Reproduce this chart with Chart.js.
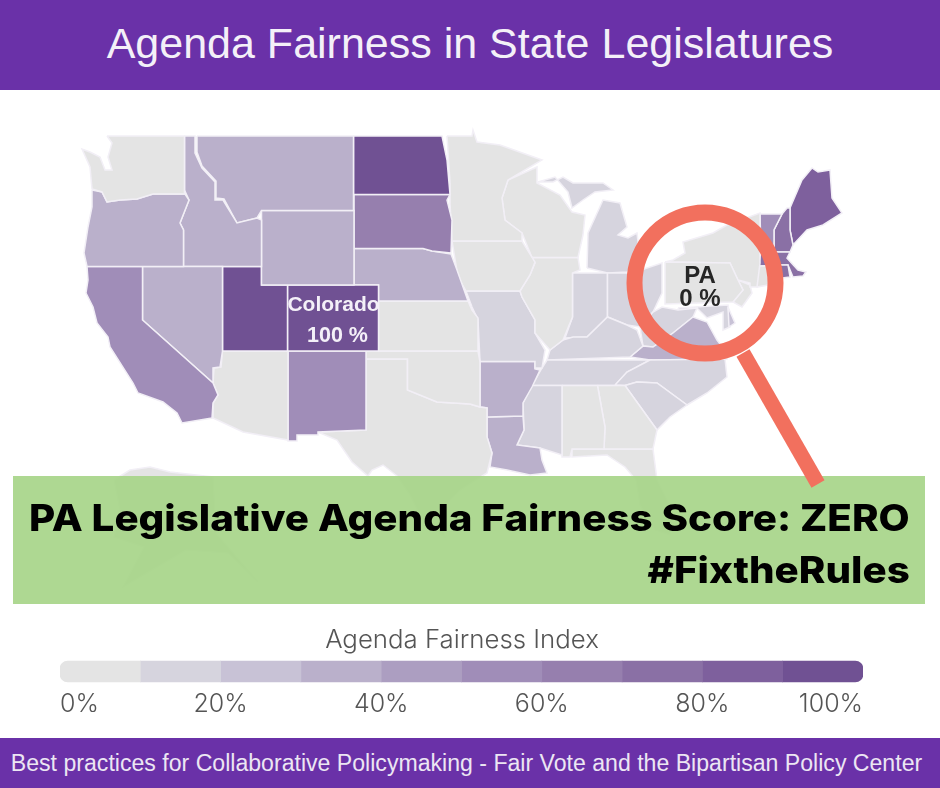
<!DOCTYPE html>
<html>
<head>
<meta charset="utf-8">
<script src="https://cdn.jsdelivr.net/npm/chart.js@4/dist/chart.umd.min.js"></script>
<style>
  html, body { margin: 0; padding: 0; background: #fff; }
  #page { position: relative; width: 940px; height: 788px; overflow: hidden; font-family: "Liberation Sans", Arial, sans-serif; }
  canvas { position: absolute; }
  #mapChart, #lensChart { left: 0; top: 0; }
  #mapChart { filter: blur(0.5px); }
  #legendChart { left: 60px; top: 655px; }
  .bar { position: absolute; left: 0; width: 940px; background: #6a31a8; color: #fff; text-align: center; white-space: nowrap; }
  #head { top: 0; height: 90px; line-height: 86px; font-size: 43px; color: #f4f0f8; }
  #foot { top: 738px; height: 50px; line-height: 50px; font-size: 23.1px; color: #ece6f3; width: 933px; padding-right: 7px; }
  #banner { position: absolute; left: 13px; top: 476px; width: 912px; height: 128px; background: rgba(165, 212, 134, 0.9); }
  .bannerline { position: absolute; right: 15px; white-space: nowrap; color: #000; font-family: Inter, sans-serif; font-weight: 800; font-size: 37px; transform: scaleX(1.089); transform-origin: right center; }
  #legendTitle { position: absolute; left: 0; width: 924px; top: 623px; text-align: center; font-family: Inter, sans-serif; font-weight: 300; font-size: 25.8px; color: #555; }
  .label { position: absolute; font-weight: bold; text-align: center; white-space: nowrap; }
</style>
</head>
<body>
<div id="page">
  <canvas id="mapChart" width="940" height="788"></canvas>
  <div id="banner">
    <div class="bannerline" style="top:19px">PA Legislative Agenda Fairness Score: ZERO</div>
    <div class="bannerline" style="top:71px">#FixtheRules</div>
  </div>
  <canvas id="lensChart" width="940" height="788"></canvas>
  <div class="bar" id="head">Agenda Fairness in State Legislatures</div>
  <div class="bar" id="foot">Best practices for Collaborative Policymaking - Fair Vote and the Bipartisan Policy Center</div>
  <div class="label" style="left:280px;width:107px;top:292px;font-size:21px;color:#f4f0f8">Colorado</div>
  <div class="label" style="left:284px;width:107px;top:323px;font-size:21.5px;color:#f4f0f8">100 %</div>
  <div class="label" style="left:650px;width:100px;top:261px;font-size:24px;color:#262626">PA</div>
  <div class="label" style="left:650px;width:100px;top:284px;font-size:24px;color:#262626">0 %</div>
  <div id="legendTitle">Agenda Fairness Index</div>
  <canvas id="legendChart" width="803" height="71"></canvas>
</div>

<script>
// Data

const stateNames = ["WA","OR","CA","NV","ID","MT","WY","UT","CO","AZ","NM","ND","SD","NE","KS","OK","TX","MN","IA","WI","IL","MO","AR","LA","MS","AL","GA","FL","SC","NC","TN","KY","VA","WV","OH","IN","MI","MIU","PA","NY","NJ","CT","RI","MA","VT","NH","ME","DE","MD","AK"];
const stateScores = [0,35,55,35,35,35,35,100,100,0,55,100,65,35,0,0,0,0,0,0,0,15,35,35,15,0,0,0,15,15,15,15,35,15,15,15,15,15,0,0,0,0,75,75,55,75,85,25,15,0];

const legendSteps = [10,10,10,10,10,10,10,10,10,10];
const legendColors = ["#e4e4e4","#d6d4de","#c8c2d6","#bab0cb","#ac9ec1","#a08db8","#967fae","#8a70a5","#7e609d","#705193"];

// outlines, in map units
const stateOutlines = {
  WA: [[107,136],[184.5,136],[184.5,194],[153,194],[137,199],[120,200],[107,202],[102,192],[92,189],[91,178],[90,167],[82,149],[90,152],[100,157],[105,170],[112,170],[108,157],[112,143]],
  OR: [[92,190],[102,192],[107,202],[120,200],[137,199],[153,194],[185,194],[189,200],[180,223],[183.5,230],[183.5,266.5],[87,266.5],[84,253],[88,227],[92,207]],
  CA: [[87,266.5],[142.5,266.5],[142.5,320],[213,383],[218,395],[213,403],[212,418],[182,423],[177,413],[163,402],[138,393],[133,383],[110,347],[108,337],[97,323],[93,307],[86,293],[88,280]],
  NV: [[142.5,266.5],[222.5,266.5],[222.5,351],[220,367],[213,368],[213,383],[142.5,320]],
  ID: [[184.5,136],[195,136],[195,153],[202,168],[215,182],[215,200],[223,200],[237,223],[257,218],[261.5,220],[261.5,266.5],[183.5,266.5],[183.5,230],[180,223],[189,200],[184.5,190]],
  MT: [[197,136],[353.5,136],[353.5,210.5],[261.5,210.5],[257,218],[237,223],[224,199],[216,198],[216,181],[202,166],[197,152]],
  WY: [[261.5,210.5],[354,210.5],[354,285],[261.5,285]],
  UT: [[222.5,266.5],[261.5,266.5],[261.5,285],[287.5,285],[287.5,351],[222.5,351]],
  CO: [[287.5,285],[378.5,285],[378.5,351],[287.5,351]],
  AZ: [[222.5,351],[288,351],[288,440],[243,432],[213,418],[213,403],[218,395],[213,383],[214,368],[221,367]],
  NM: [[288,351],[366,351],[366,430],[318,432],[318,435],[297,435],[297,441],[288,441]],
  ND: [[353.5,136],[442,136],[447,160],[450,194.5],[353.5,194.5]],
  SD: [[354,194.5],[450,194.5],[447,200],[452,220],[451,253],[432,251],[423,248.5],[354,248.5]],
  NE: [[354,248.5],[423,248.5],[432,251],[451,254],[457,270],[468,301],[378.5,301],[378.5,285],[354,285]],
  KS: [[378.5,301],[468,301],[472,310],[478,318],[478,351],[378.5,351]],
  OK: [[366,351],[478,351],[480,362],[480,407],[470,404],[437,402],[407.5,390],[407.5,359],[366,359]],
  TX: [[366,359],[407.5,359],[407.5,390],[437,402],[470,404],[480,407],[487,408],[487,437],[492,453],[487,473],[460,490],[440,510],[445,537],[425,525],[410,495],[397,476],[383,465],[372,470],[368,476],[352,462],[337,440],[318,432],[366,430]],
  MN: [[447,136],[472,136],[473,130],[477,142],[500,145],[542,160],[508,180],[502,198],[505,220],[522,233],[522,241],[452,241],[450,203],[450,183]],
  IA: [[452,241],[522,241],[535,262],[530,275],[520,291],[466,291],[458,277]],
  WI: [[508,180],[537,167],[537,183],[560,195],[572,212],[585,215],[583,235],[578,257.5],[532,257.5],[522,233],[505,220],[502,198]],
  IL: [[532,257.5],[578,257.5],[580,270],[572.5,273],[572.5,317],[563,340],[550,350],[535,333],[535,320],[522,297],[520,291],[530,275],[535,263]],
  MO: [[466,291],[520,291],[522,297],[535,320],[535,333],[545,350],[542,368],[535,368],[535,361.5],[480,361.5],[478,320],[472,307]],
  AR: [[480,361.5],[535,361.5],[535,369],[540,370],[532,387],[523,403],[523,416],[487,417],[487,408],[480,407]],
  LA: [[487,417],[523,416],[524,430],[517,445],[540,448],[542,460],[547,473],[530,475],[507,470],[490,467],[492,453],[487,437]],
  MS: [[532,385.5],[562,385.5],[562,455],[540,448],[517,445],[524,430],[523,403]],
  AL: [[562,385.5],[597.5,385.5],[605,427],[604,449],[572,449],[570,457],[562,457]],
  GA: [[597.5,385.5],[625,385.5],[657,430],[653,449],[604,449],[605,427]],
  FL: [[572,449],[653,449],[657,480],[672,510],[670,535],[655,530],[640,505],[636,480],[625,467],[607,455],[572,457]],
  SC: [[625,385.5],[637,382],[657,383],[687,405],[670,417],[657,430]],
  NC: [[615,385],[627,372],[650,360],[725,359],[727,377],[707,393],[687,405],[657,383],[637,382],[625,385.5]],
  TN: [[542,368],[547,360],[650,360],[627,372],[615,385.5],[532,385.5]],
  KY: [[550,350],[563,340],[573,337],[587,337],[607.5,317],[627,325],[637,330],[643,346],[630,357],[547,360]],
  VA: [[630,357],[643,346],[653,347],[673,333],[693,317],[707,322],[717,340],[727,353],[727,359],[650,360]],
  WV: [[640,327],[653,312],[662,307],[678,310],[697,308],[693,317],[673,333],[653,347],[643,346]],
  OH: [[607.5,273],[632,273],[662,263],[662,293],[653,312],[640,327],[627,325],[607.5,317]],
  IN: [[572.5,273],[607.5,273],[607.5,317],[587,337],[565,338],[572.5,317]],
  MI: [[587,268],[588,233],[603,200],[620,203],[627,227],[618,235],[628,238],[637,233],[640,260],[627,272],[607.5,273]],
  MIU: [[538,182],[555,177],[568,192],[572,208],[583,200],[595,192],[613,190],[603,183],[587,183],[573,183],[563,177],[553,182]],
  PA: [[665,262],[730,263],[738,280],[743,290],[733,302],[665,304]],
  NY: [[665,262],[673,260],[685,253],[683,242],[713,233],[727,225],[760,213],[760,263],[757,287],[750,287],[750,283],[738,280],[730,263]],
  NJ: [[738,280],[750,285],[752,293],[742,307],[733,302],[743,290]],
  CT: [[757,266],[779,266],[779,283],[757,287]],
  RI: [[779,265],[788,265],[790,277],[782,278]],
  MA: [[758,266],[761,252],[790,252],[787,258],[798,270],[806,272],[803,276],[793,277],[788,265]],
  VT: [[760,214],[782,214],[774,230],[774,252],[761,252]],
  NH: [[782,214],[787,208],[790,208],[790,230],[793,245],[790,252],[774,252],[774,230]],
  ME: [[790,208],[802,180],[812,168],[818,172],[830,170],[832,198],[842,213],[823,225],[807,230],[793,245],[790,230]],
  DE: [[728,307],[735,323],[729,327]],
  MD: [[678,308],[728,305],[730,327],[723,330],[723,312],[707,318],[697,308],[680,313]],
  AK: [[114,480],[130,470],[150,467],[170,472],[213,477],[216,533],[258,582],[228,553],[186,550],[123,587],[144,547],[114,537],[120,510]]
};

const lensCenter = [[705,283]];
const lensHandle = [[743,353],[818,484]];

// Charts

const pageScales = {
  x: { type: 'linear', min: 0, max: 940, display: false },
  y: { type: 'linear', min: 0, max: 788, reverse: true, display: false }
};

const binColor = (score) => legendColors[Math.min(9, Math.floor(score / 10))];

const stateSets = stateNames.map((name, i) => {
  const pts = stateOutlines[name].map(p => ({ x: p[0], y: p[1] }));
  pts.push(pts[0]);
  return {
    label: name,
    data: pts,
    showLine: true,
    tension: 0,
    pointRadius: 0,
    fill: 'shape',
    backgroundColor: binColor(stateScores[i]),
    borderColor: '#f2eff6',
    borderWidth: 1.5
  };
});

new Chart(document.getElementById("mapChart"), {
  type: 'scatter',
  data: { datasets: stateSets },
  options: {
    responsive: false,
    animation: false,
    layout: { padding: 0, autoPadding: false },
    scales: pageScales,
    plugins: { legend: { display: false }, tooltip: { enabled: false } }
  }
});

new Chart(document.getElementById("lensChart"), {
  type: 'scatter',
  data: {
    datasets: [
      {
        data: lensCenter.map(p => ({ x: p[0], y: p[1] })),
        pointRadius: 70.5,
        pointBorderWidth: 16,
        pointBackgroundColor: 'transparent',
        pointBorderColor: '#f2705e'
      },
      {
        data: lensHandle.map(p => ({ x: p[0], y: p[1] })),
        showLine: true,
        pointRadius: 0,
        borderColor: '#f2705e',
        borderWidth: 15
      }
    ]
  },
  options: {
    responsive: false,
    animation: false,
    layout: { padding: 0, autoPadding: false },
    scales: pageScales,
    plugins: { legend: { display: false }, tooltip: { enabled: false } }
  }
});

const lastStep = legendSteps.length - 1;

new Chart(document.getElementById("legendChart"), {
  type: 'bar',
  data: {
    labels: ['Agenda Fairness Index'],
    datasets: legendSteps.map((v, i) => ({
      data: [v],
      backgroundColor: legendColors[i],
      borderSkipped: false,
      borderRadius: i == 0 ? { topLeft: 8, bottomLeft: 8 } : (i == lastStep ? { topRight: 8, bottomRight: 8 } : 0),
      barThickness: 21
    }))
  },
  options: {
    indexAxis: 'y',
    responsive: false,
    animation: false,
    layout: { padding: { bottom: 14 } },
    scales: {
      x: {
        stacked: true,
        min: 0,
        max: 100,
        grid: { display: false },
        border: { display: false },
        ticks: {
          stepSize: 20,
          align: 'inner',
          padding: -7,
          maxRotation: 0,
          color: '#555',
          font: { family: 'Inter', weight: '300', size: 25 },
          callback: (v) => v + '%'
        }
      },
      y: { stacked: true, display: false }
    },
    plugins: { legend: { display: false }, tooltip: { enabled: false } }
  }
});
</script>
</body>
</html>
